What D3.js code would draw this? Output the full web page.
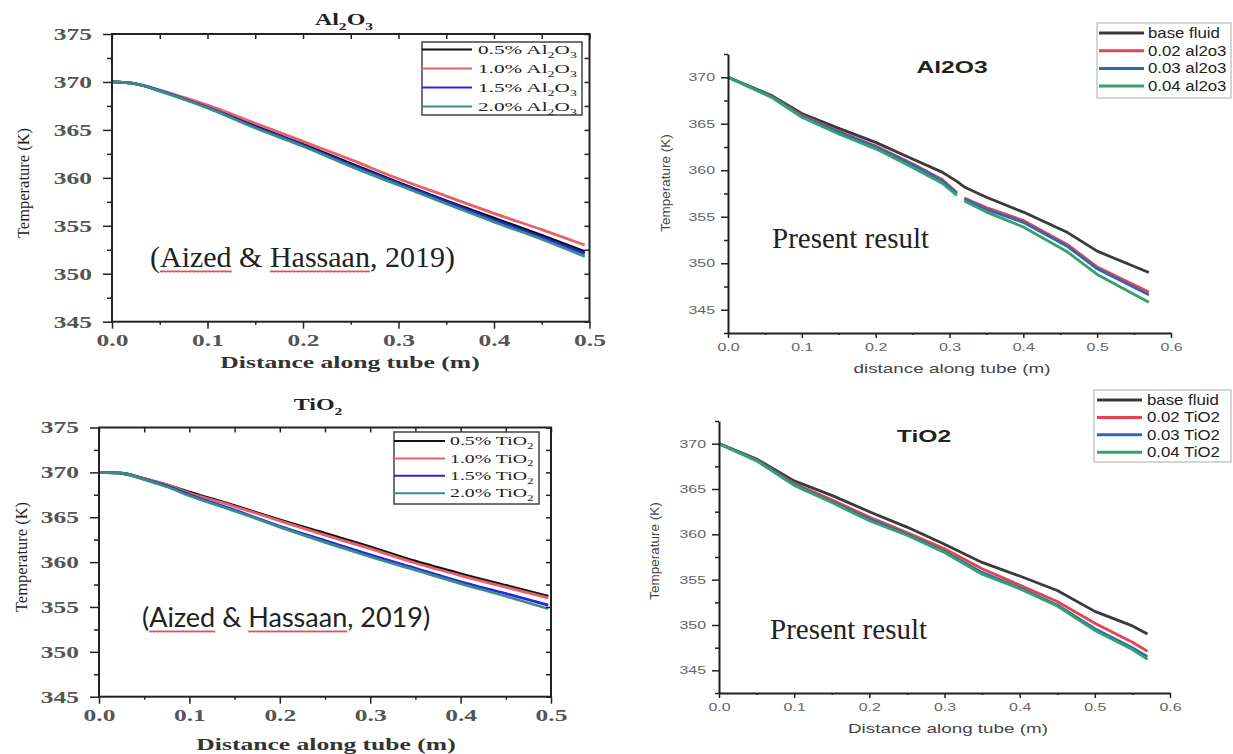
<!DOCTYPE html>
<html>
<head>
<meta charset="utf-8">
<script src="https://cdn.jsdelivr.net/npm/d3@7"></script>
<style>
  body { margin: 0; background: #fff; }
</style>
</head>
<body>
<svg id="chart"></svg>
<script>
// --- values: distance (m) -> temperature (K) ---
var alRefX = [0, 0.025, 0.05, 0.075, 0.1, 0.15, 0.2, 0.25, 0.3, 0.35, 0.4, 0.45, 0.495];
var alRef05 = [370, 369.8, 369.1, 368.3, 367.4, 365.4, 363.5, 361.5, 359.5, 357.6, 355.8, 354.0, 352.3];
var alRef10 = [370, 369.8, 369.15, 368.4, 367.6, 365.7, 363.8, 361.9, 359.9, 358.1, 356.3, 354.6, 353.0];
var alRef15 = [370, 369.8, 369.1, 368.25, 367.35, 365.3, 363.4, 361.35, 359.4, 357.5, 355.6, 353.8, 352.1];
var alRef20 = [370, 369.8, 369.05, 368.2, 367.3, 365.2, 363.3, 361.2, 359.25, 357.3, 355.4, 353.6, 351.8];

var tiRefX = [0, 0.025, 0.05, 0.075, 0.1, 0.15, 0.2, 0.25, 0.3, 0.35, 0.4, 0.45, 0.497];
var tiRef05 = [370, 369.9, 369.3, 368.6, 367.8, 366.3, 364.7, 363.2, 361.7, 360.1, 358.7, 357.4, 356.2];
var tiRef10 = [370, 369.9, 369.3, 368.6, 367.7, 366.2, 364.6, 363.0, 361.5, 359.9, 358.5, 357.2, 356.0];
var tiRef15 = [370, 369.9, 369.25, 368.5, 367.5, 365.8, 364.0, 362.4, 360.8, 359.3, 357.8, 356.5, 355.2];
var tiRef20 = [370, 369.9, 369.2, 368.4, 367.4, 365.7, 363.9, 362.2, 360.6, 359.1, 357.6, 356.2, 354.8];

var alNewX = [0, 0.06, 0.1, 0.15, 0.2, 0.25, 0.29, 0.31, 0.315, 0.32, 0.35, 0.4, 0.46, 0.5, 0.57];
var alBase = [370, 368.0, 366.1, 364.5, 363.0, 361.2, 359.8, 358.8, 358.5, 358.2, 357.1, 355.5, 353.3, 351.3, 349.0];
var al002 = [370, 367.9, 365.9, 364.2, 362.6, 360.7, 359.0, 357.6, null, 357.0, 356.0, 354.6, 352.0, 349.6, 346.9];
var al003 = [370, 367.9, 365.8, 364.1, 362.5, 360.6, 358.9, 357.5, null, 356.9, 355.8, 354.4, 351.8, 349.4, 346.6];
var al004 = [370, 367.8, 365.7, 363.9, 362.3, 360.3, 358.6, 357.3, null, 356.7, 355.5, 353.9, 351.2, 348.8, 345.8];

var tiNewX = [0, 0.05, 0.1, 0.15, 0.2, 0.25, 0.3, 0.35, 0.4, 0.45, 0.5, 0.55, 0.57];
var tiBase = [370, 368.3, 365.9, 364.3, 362.5, 360.8, 358.9, 356.9, 355.4, 353.8, 351.5, 349.9, 349.0];
var ti002 = [370, 368.2, 365.6, 363.8, 361.9, 360.2, 358.4, 356.2, 354.4, 352.6, 350.2, 348.1, 347.1];
var ti003 = [370, 368.2, 365.5, 363.6, 361.7, 360.0, 358.1, 355.8, 354.1, 352.2, 349.6, 347.5, 346.5];
var ti004 = [370, 368.1, 365.4, 363.5, 361.5, 359.9, 358.0, 355.6, 354.0, 352.1, 349.4, 347.3, 346.2];

var alRefLabels = ['0.5% Al_2O_3', '1.0% Al_2O_3', '1.5% Al_2O_3', '2.0% Al_2O_3'];
var tiRefLabels = ['0.5% TiO_2', '1.0% TiO_2', '1.5% TiO_2', '2.0% TiO_2'];
var alNewLabels = ['base fluid', '0.02 al2o3', '0.03 al2o3', '0.04 al2o3'];
var tiNewLabels = ['base fluid', '0.02 TiO2', '0.03 TiO2', '0.04 TiO2'];
var refColors = ['#111111', '#e8606a', '#2626e0', '#3a8c88'];
var newColors = ['#3a3a3a', '#e8424c', '#2f68b4', '#36a070'];

var refYTicks = [345, 350, 355, 360, 365, 370, 375];
var refYMinor = [347.5, 352.5, 357.5, 362.5, 367.5, 372.5];
var refXTicks = [0, 0.1, 0.2, 0.3, 0.4, 0.5];
var refXMinor = [0.05, 0.15, 0.25, 0.35, 0.45];
var newYTicks = [345, 350, 355, 360, 365, 370];
var newYMinor = [342.5, 347.5, 352.5, 357.5, 362.5, 367.5, 372.5];
var newXTicks = [0, 0.1, 0.2, 0.3, 0.4, 0.5, 0.6];
var newXMinor = [0.05, 0.15, 0.25, 0.35, 0.45, 0.55];

var W = 1233, H = 754;
var SERIF = "'Liberation Serif', 'Times New Roman', serif";
var SANS = "'Liberation Sans', Arial, sans-serif";

var svg = d3.select('#chart')
    .attr('width', W)
    .attr('height', H)
    .style('background-color', '#fff');

// red spell-check squiggle
var defs = svg.append('defs');
defs.append('pattern')
    .attr('id', 'squig')
    .attr('width', 4)
    .attr('height', 3)
    .attr('patternUnits', 'userSpaceOnUse')
    .append('path')
    .attr('d', 'M0,2.5 L1,0.5 L2,2.5 L3,0.5 L4,2.5')
    .attr('fill', 'none')
    .attr('stroke', '#e23b3b')
    .attr('stroke-width', 0.9);

// text with "_2" style chemical subscripts
function rich(t, s, size) {
    var shift = 0;
    s.split(/(_\d)/).forEach(function (p) {
        if (!p) return;
        var sub = p[0] === '_';
        var d = sub ? size * 0.3 : 0;
        t.append('tspan')
            .attr('dy', d - shift)
            .style('font-size', (sub ? size * 0.65 : size) + 'px')
            .text(sub ? p.slice(1) : p);
        shift = d;
    });
}

function label(g, x, y, s, o) {
    var t = g.append('text')
        .attr('transform', 'translate(' + x + ',' + y + ')' +
            (o.rotate ? ' rotate(' + o.rotate + ')' : '') +
            ' scale(' + (o.sx || 1) + ',1)')
        .attr('text-anchor', o.anchor || 'middle')
        .attr('fill', o.fill || '#222')
        .style('font-family', o.font)
        .style('font-size', o.size + 'px')
        .style('font-weight', o.weight || 'normal');
    rich(t, s, o.size);
    return t;
}

function styleAxis(a, o, isLeft, off) {
    a.selectAll('line')
        .attr('stroke', '#222')
        .attr('stroke-width', o.tickWidth);
    a.selectAll('text')
        .attr('fill', o.tickFill)
        .style('font-family', o.tickFont)
        .style('font-size', o.tickSize + 'px')
        .style('font-weight', o.tickWeight)
        .attr('transform', 'scale(' + o.tickSx + ',1)');
    if (isLeft) a.selectAll('text').attr('x', -off / o.tickSx);
}

function panel(c) {
    var g = svg.append('g');
    var x = d3.scaleLinear().domain(c.xDomain).range(c.xRange);
    var y = d3.scaleLinear().domain(c.yDomain).range(c.yRange);
    var x0 = c.xRange[0], x1 = c.xRange[1], y0 = c.yRange[0], y1 = c.yRange[1];

    var line = d3.line()
        .defined(function (d) { return d[1] != null; })
        .x(function (d) { return x(d[0]); })
        .y(function (d) { return y(d[1]); })
        .curve(c.curve);

    c.series.forEach(function (s, i) {
        g.append('path')
            .datum(c.xs.map(function (v, j) { return [v, s[j]]; }))
            .attr('d', line)
            .attr('fill', 'none')
            .attr('stroke', c.colors[i])
            .attr('stroke-width', c.lineWidth)
            .attr('stroke-linejoin', 'round');
    });

    var fmt = d3.format('.1f');
    var a;
    // left axis
    a = g.append('g').attr('transform', 'translate(' + x0 + ',0)')
        .call(d3.axisLeft(y).tickValues(c.yTicks).tickSize(c.major).tickPadding(c.padY).tickSizeOuter(0).tickFormat(d3.format('d')));
    if (c.box) a.select('.domain').remove();
    styleAxis(a, c, true, c.major + c.padY);
    a = g.append('g').attr('transform', 'translate(' + x0 + ',0)')
        .call(d3.axisLeft(y).tickValues(c.yMinor).tickSize(c.minor).tickFormat(''));
    a.select('.domain').remove();
    styleAxis(a, c);
    // bottom axis
    a = g.append('g').attr('transform', 'translate(0,' + y0 + ')')
        .call(d3.axisBottom(x).tickValues(c.xTicks).tickSize(c.major - 2).tickPadding(c.padX).tickSizeOuter(0).tickFormat(fmt));
    if (c.box) a.select('.domain').remove();
    styleAxis(a, c);
    a = g.append('g').attr('transform', 'translate(0,' + y0 + ')')
        .call(d3.axisBottom(x).tickValues(c.xMinor).tickSize(c.minor - 2).tickFormat(''));
    a.select('.domain').remove();
    styleAxis(a, c);

    if (c.box) {
        // mirrored inward ticks on top and right
        a = g.append('g').attr('transform', 'translate(0,' + y1 + ')')
            .call(d3.axisTop(x).tickValues(c.xTicks.concat(c.xMinor)).tickSize(-5).tickFormat(''));
        a.select('.domain').remove();
        styleAxis(a, c);
        a = g.append('g').attr('transform', 'translate(' + x1 + ',0)')
            .call(d3.axisRight(y).tickValues(c.yTicks.concat(c.yMinor)).tickSize(-5).tickFormat(''));
        a.select('.domain').remove();
        styleAxis(a, c);
        g.append('rect')
            .attr('x', x0)
            .attr('y', y1)
            .attr('width', x1 - x0)
            .attr('height', y0 - y1)
            .attr('fill', 'none')
            .attr('stroke', '#222')
            .attr('stroke-width', 2);
    } else {
        g.selectAll('.domain').attr('stroke', '#222').attr('stroke-width', 2);
    }

    label(g, c.title[0], c.title[1], c.titleText, c.titleStyle);
    label(g, c.xLabel[0], c.xLabel[1], c.xLabelText, c.xLabelStyle);
    label(g, c.yLabel[0], c.yLabel[1], 'Temperature (K)', c.yLabelStyle);

    // legend
    var L = c.legend;
    g.append('rect')
        .attr('x', L.box[0])
        .attr('y', L.box[1])
        .attr('width', L.box[2])
        .attr('height', L.box[3])
        .attr('fill', '#fff')
        .attr('stroke', L.stroke)
        .attr('stroke-width', L.strokeWidth);
    c.labels.forEach(function (s, i) {
        var ry = L.row0 + i * L.step;
        g.append('line')
            .attr('x1', L.line[0])
            .attr('x2', L.line[1])
            .attr('y1', ry)
            .attr('y2', ry)
            .attr('stroke', c.colors[i])
            .attr('stroke-width', L.lineWidth);
        label(g, L.textX, ry + L.size * 0.35, s, {
            anchor: 'start', font: L.font, size: L.size, sx: L.sx, fill: '#222'
        });
    });

    // annotation
    var A = c.note;
    var t = g.append('text')
        .attr('x', A.x)
        .attr('y', A.y)
        .attr('fill', '#222')
        .style('font-family', A.font)
        .style('font-size', A.size + 'px')
        .text(A.text);
    if (A.squiggle) {
        var node = t.node();
        [[1, 5], [9, 7]].forEach(function (r) {
            var sx = A.x + node.getSubStringLength(0, r[0]);
            var w = node.getSubStringLength(r[0], r[1]);
            g.append('rect')
                .attr('x', sx)
                .attr('y', A.y + A.squiggle)
                .attr('width', w)
                .attr('height', 3)
                .attr('fill', 'url(#squig)');
        });
    }
}

var refStyle = {
    box: true, curve: d3.curveMonotoneX, lineWidth: 2.8, colors: refColors,
    yTicks: refYTicks, yMinor: refYMinor, xTicks: refXTicks, xMinor: refXMinor,
    major: 9, minor: 5, padY: 11, padX: 5, tickWidth: 1.5,
    tickFont: SERIF, tickSize: 17, tickWeight: 'bold', tickFill: '#555', tickSx: 1.5,
    titleStyle: { font: SERIF, size: 16, weight: 'bold', sx: 1.5 },
    xLabelStyle: { font: SERIF, size: 16, weight: 'bold', sx: 1.6, fill: '#333' },
    yLabelStyle: { font: SERIF, size: 16.5, rotate: -90, fill: '#222' }
};
var newStyle = {
    box: false, curve: d3.curveLinear, lineWidth: 2.8, colors: newColors,
    yTicks: newYTicks, yMinor: newYMinor, xTicks: newXTicks, xMinor: newXMinor,
    major: 7, minor: 4, padY: 6, padX: 5, tickWidth: 1.5,
    tickFont: SANS, tickSize: 11, tickWeight: 'normal', tickFill: '#666', tickSx: 1.45,
    titleStyle: { font: SANS, size: 17, weight: 'bold', sx: 1.45 },
    xLabelStyle: { font: SANS, size: 13, sx: 1.45, fill: '#444' },
    yLabelStyle: { font: SANS, size: 13.5, rotate: -90, fill: '#444' }
};

function make(style, extra) {
    return Object.assign({}, style, extra);
}

panel(make(refStyle, {
    xs: alRefX, series: [alRef05, alRef10, alRef15, alRef20], labels: alRefLabels,
    xDomain: [0, 0.5], xRange: [112, 589.5], yDomain: [345, 375], yRange: [321.7, 34],
    title: [344, 25], titleText: 'Al_2O_3',
    xLabel: [350, 368], xLabelText: 'Distance along tube (m)',
    yLabel: [29, 183],
    legend: { box: [422, 42, 160, 73], row0: 49.5, step: 19, line: [422, 472], textX: 478,
        font: SERIF, size: 12.5, sx: 1.7, lineWidth: 2, stroke: '#444', strokeWidth: 1.5 },
    note: { text: '(Aized & Hassaan, 2019)', x: 150, y: 267, font: SERIF, size: 30, squiggle: 3 }
}));

panel(make(refStyle, {
    xs: tiRefX, series: [tiRef05, tiRef10, tiRef15, tiRef20], labels: tiRefLabels,
    xDomain: [0, 0.5], xRange: [99, 551], yDomain: [345, 375], yRange: [696.7, 427.5],
    title: [318, 410], titleText: 'TiO_2',
    xLabel: [326, 750], xLabelText: 'Distance along tube (m)',
    yLabel: [27, 557],
    legend: { box: [394, 432, 145, 72], row0: 441, step: 17.4, line: [394, 445], textX: 450,
        font: SERIF, size: 12, sx: 1.65, lineWidth: 2, stroke: '#444', strokeWidth: 1.5 },
    note: { text: '(Aized & Hassaan, 2019)', x: 142, y: 627, font: "Lato, 'Open Sans', sans-serif", size: 27, squiggle: 3 }
}));

panel(make(newStyle, {
    xs: alNewX, series: [alBase, al002, al003, al004], labels: alNewLabels,
    xDomain: [0, 0.6], xRange: [728, 1171], yDomain: [342.5, 372.5], yRange: [333, 54],
    title: [952, 73], titleText: 'Al2O3',
    xLabel: [952, 373], xLabelText: 'distance along tube (m)',
    yLabel: [670, 183],
    legend: { box: [1097, 23, 134, 75], row0: 33, step: 17.7, line: [1099, 1144], textX: 1148,
        font: SANS, size: 14, sx: 1.2, lineWidth: 3, stroke: '#aaa', strokeWidth: 1 },
    note: { text: 'Present result', x: 772, y: 248, font: SERIF, size: 29 }
}));

panel(make(newStyle, {
    xs: tiNewX, series: [tiBase, ti002, ti003, ti004], labels: tiNewLabels,
    xDomain: [0, 0.6], xRange: [719, 1170], yDomain: [342.5, 372.5], yRange: [693, 421],
    title: [924, 442], titleText: 'TiO2',
    xLabel: [948, 733], xLabelText: 'Distance along tube (m)',
    yLabel: [659, 551],
    legend: { box: [1094, 390, 137, 72], row0: 400, step: 17.4, line: [1097, 1142], textX: 1147,
        font: SANS, size: 14, sx: 1.2, lineWidth: 3, stroke: '#aaa', strokeWidth: 1 },
    note: { text: 'Present result', x: 770, y: 639, font: SERIF, size: 29 }
}));
</script>
</body>
</html>
